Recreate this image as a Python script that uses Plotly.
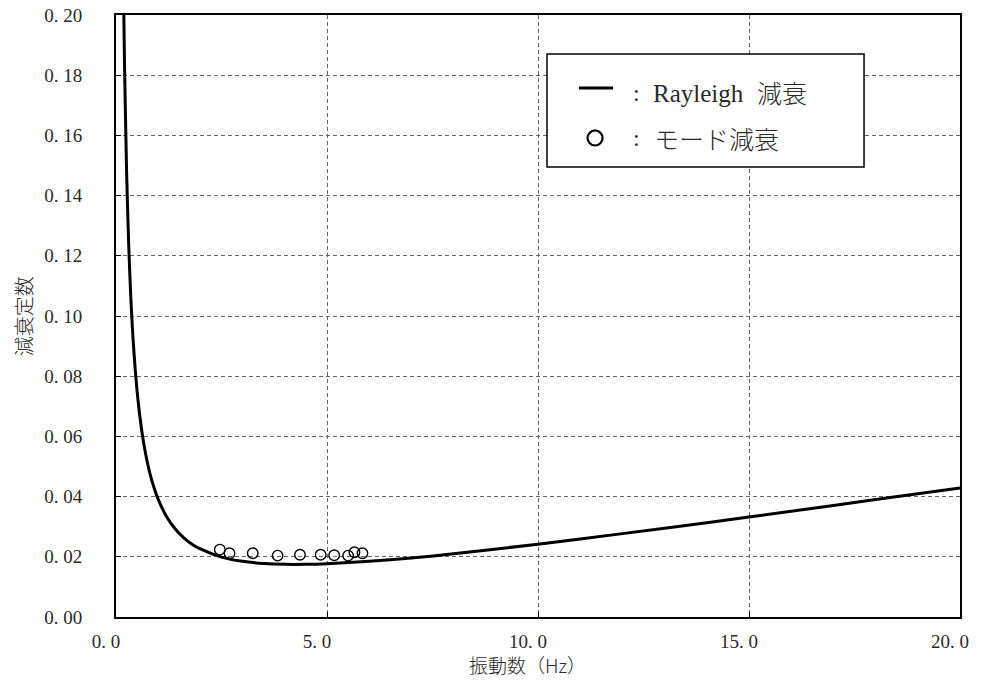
import plotly.graph_objects as go

# Rayleigh damping curve
freq_curve = [0.18, 0.2, 0.25, 0.3, 0.35, 0.4, 0.5, 0.6, 0.7, 0.8, 0.9, 1.0, 1.2, 1.4, 1.6, 1.8,
              2.0, 2.5, 3.0, 3.5, 4.0, 4.5, 5.0, 6.0, 7.0, 8.0, 10.0, 12.0, 14.0, 16.0, 18.0, 20.0]
damp_curve = [0.2059, 0.1854, 0.1485, 0.1240, 0.1064, 0.0933, 0.0750, 0.0629, 0.0543, 0.0479, 0.0430,
              0.0391, 0.0333, 0.0293, 0.0264, 0.0242, 0.0226, 0.0199, 0.0185, 0.0178, 0.0175, 0.0175,
              0.0177, 0.0185, 0.0196, 0.0210, 0.0242, 0.0277, 0.0313, 0.0351, 0.0390, 0.0429]

# Modal damping points
freq_mode = [2.46, 2.69, 3.24, 3.83, 4.36, 4.85, 5.17, 5.50, 5.65, 5.84]
damp_mode = [0.0224, 0.0212, 0.0212, 0.0204, 0.0207, 0.0207, 0.0205, 0.0204, 0.0215, 0.0212]

x_tickvals = [0, 5, 10, 15, 20]
x_ticktext = ["0. 0", "5. 0", "10. 0", "15. 0", "20. 0"]
y_tickvals = [0.00, 0.02, 0.04, 0.06, 0.08, 0.10, 0.12, 0.14, 0.16, 0.18, 0.20]
y_ticktext = ["0. 00", "0. 02", "0. 04", "0. 06", "0. 08", "0. 10", "0. 12", "0. 14", "0. 16", "0. 18", "0. 20"]

legend_colon = ":"
legend_line_label = "Rayleigh"
legend_cjk_1 = "減衰"
legend_cjk_2 = "モード減衰"
x_title = "振動数（Hz）"
y_title = "減衰定数"

SERIF = "Liberation Serif, Noto Sans CJK JP"
CJK = "Noto Sans CJK JP"
TXT = "#2a2a2a"

fig = go.Figure()
fig.add_trace(go.Scatter(x=freq_curve, y=damp_curve, mode="lines",
                         line=dict(color="black", width=3, shape="spline", smoothing=0.6),
                         showlegend=False, hoverinfo="skip"))
fig.add_trace(go.Scatter(x=freq_mode, y=damp_mode, mode="markers",
                         marker=dict(symbol="circle-open", size=10.5, color="black",
                                     line=dict(width=1.4, color="black")),
                         showlegend=False, hoverinfo="skip"))

axis_common = dict(showline=True, linecolor="black", linewidth=2, mirror=True,
                   showgrid=True, gridcolor="#666666", gridwidth=1, griddash="4px,3px",
                   ticks="inside", ticklen=5, tickcolor="black", tickwidth=1,
                   zeroline=False, automargin=False, ticklabeloverflow="allow",
                   tickfont=dict(family=SERIF, size=19, color=TXT))

fig.update_xaxes(range=[0, 20], tickvals=x_tickvals, ticktext=x_ticktext,
                 ticklabelstandoff=6, ticklabelshift=-10, **axis_common)
fig.update_yaxes(range=[0, 0.20], tickvals=y_tickvals, ticktext=y_ticktext,
                 ticklabelstandoff=28, **axis_common)

# legend box
fig.add_shape(type="rect", xref="paper", yref="paper", x0=0.5107, x1=0.8863, y0=0.7475, y1=0.9352,
              line=dict(color="black", width=1.5), fillcolor="white", layer="above")
fig.add_shape(type="line", xref="paper", yref="paper", x0=0.5486, x1=0.5889, y0=0.8787, y1=0.8787,
              line=dict(color="black", width=3))
fig.add_shape(type="circle", xref="paper", yref="paper", x0=0.5587, x1=0.5765, y0=0.7832, y1=0.8082,
              line=dict(color="black", width=2.2))

fig.add_annotation(xref="paper", yref="paper", x=0.6100, y=0.870, xanchor="left", yanchor="middle",
                   text=legend_colon, showarrow=False, font=dict(family=SERIF, size=24, color=TXT))
fig.add_annotation(xref="paper", yref="paper", x=0.6340, y=0.870, xanchor="left", yanchor="middle",
                   text=legend_line_label, showarrow=False, font=dict(family=SERIF, size=25, color=TXT))
fig.add_annotation(xref="paper", yref="paper", x=0.7570, y=0.872, xanchor="left", yanchor="middle",
                   text=legend_cjk_1, showarrow=False, font=dict(family=CJK, size=25, color=TXT, weight=300))
fig.add_annotation(xref="paper", yref="paper", x=0.6100, y=0.7957, xanchor="left", yanchor="middle",
                   text=legend_colon, showarrow=False, font=dict(family=SERIF, size=24, color=TXT))
fig.add_annotation(xref="paper", yref="paper", x=0.6355, y=0.7957, xanchor="left", yanchor="middle",
                   text=legend_cjk_2, showarrow=False, font=dict(family=CJK, size=25, color=TXT, weight=300))

# axis titles
fig.add_annotation(xref="paper", yref="paper", x=0.487, y=-0.0797, xanchor="center", yanchor="middle",
                   text=x_title, showarrow=False, font=dict(family=CJK, size=19, color=TXT, weight=300))
fig.add_annotation(xref="paper", yref="paper", x=-0.110, y=0.5, xanchor="center", yanchor="middle",
                   textangle=-90, text=y_title, showarrow=False,
                   font=dict(family=CJK, size=20, color=TXT, weight=300))

# page body has an 8px margin; size/margins compensate so the plot area sits where the reference has it
fig.update_layout(width=977, height=680, margin=dict(l=108, r=25, t=7, b=71),
                  paper_bgcolor="white", plot_bgcolor="white", showlegend=False)

fig.write_html("out.html")
